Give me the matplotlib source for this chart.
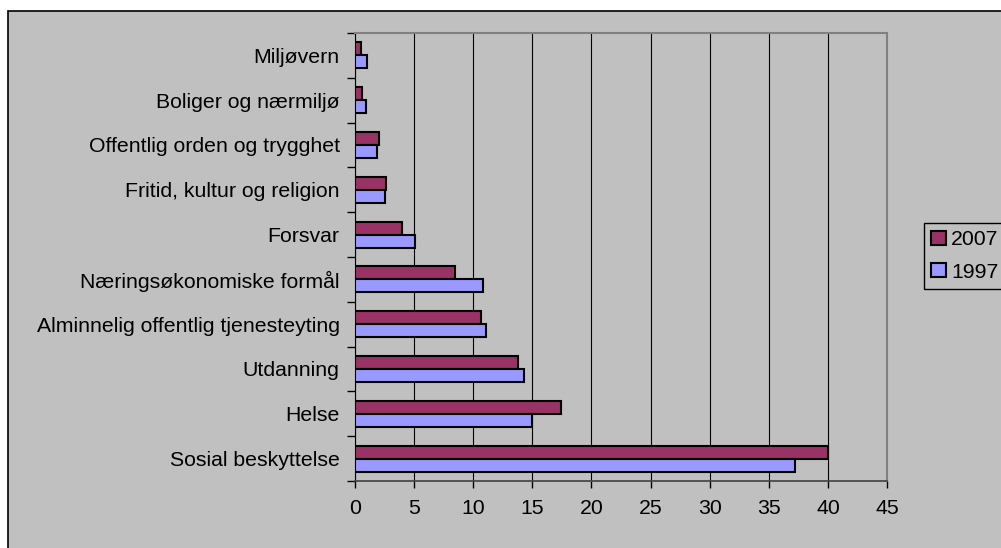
import numpy as np
import matplotlib.pyplot as plt
from matplotlib.patches import Rectangle

# categories bottom -> top
categories = ['Sosial beskyttelse', 'Helse', 'Utdanning',
              'Alminnelig offentlig tjenesteyting', 'Næringsøkonomiske formål',
              'Forsvar', 'Fritid, kultur og religion', 'Offentlig orden og trygghet',
              'Boliger og nærmiljø', 'Miljøvern']
v2007 = [40.0, 17.4, 13.8, 10.7, 8.5, 4.0, 2.6, 2.0, 0.55, 0.5]
v1997 = [37.2, 15.0, 14.3, 11.1, 10.8, 5.1, 2.55, 1.9, 0.9, 1.0]
xticks = [0, 5, 10, 15, 20, 25, 30, 35, 40, 45]

plt.rcParams['font.family'] = ['Liberation Sans', 'DejaVu Sans']
fs = 15.3

W, H = 1001, 548
fig = plt.figure(figsize=(W/100, H/100), dpi=100)
fig.patch.set_facecolor('white')
bg = Rectangle((8/W, -0.1), 1.2, 1.1 - 11/H, transform=fig.transFigure,
               facecolor='#C0C0C0', edgecolor='black', lw=1.2, zorder=-10)
fig.add_artist(bg)

ax = fig.add_axes([355/W, 1 - 481/H, (887-355)/W, (481-33)/H])
ax.set_facecolor('#C0C0C0')

y = np.arange(len(categories))
bh = 0.29
ax.barh(y + bh/2, v2007, height=bh, color='#993366', edgecolor='black', lw=1.5, label='2007', zorder=3)
ax.barh(y - bh/2, v1997, height=bh, color='#9999FF', edgecolor='black', lw=1.5, label='1997', zorder=3)

ax.set_xlim(0, 45)
ax.set_ylim(-0.5, len(categories) - 0.5)
ax.set_xticks(xticks)
ax.tick_params(axis='x', direction='out', length=5, width=1, labelsize=fs, pad=8)
ax.set_yticks(np.arange(len(categories) + 1) - 0.5)
ax.set_yticklabels([])
ax.set_yticks(y, minor=True)
ax.set_yticklabels(categories, minor=True, fontsize=fs)
ax.tick_params(axis='y', which='major', direction='out', length=6, width=1)
ax.tick_params(axis='y', which='minor', length=0, pad=11)
ax.grid(axis='x', color='black', lw=0.8, zorder=1)
ax.set_axisbelow(True)

for s in ['top', 'right']:
    ax.spines[s].set_color('#808080')
    ax.spines[s].set_linewidth(1.5)
ax.spines['left'].set_color('black')
ax.spines['bottom'].set_color('#404040')
ax.spines['bottom'].set_linewidth(1.2)

leg = ax.legend(loc='upper left', bbox_to_anchor=(924/W, 1 - 223/H), bbox_transform=fig.transFigure,
                fancybox=False, framealpha=1, facecolor='#C0C0C0', edgecolor='black',
                prop={'size': fs}, handlelength=0.68, handleheight=0.68,
                handletextpad=0.25, borderpad=0.35, labelspacing=0.62, borderaxespad=0)
leg.get_frame().set_linewidth(1)

fig.savefig('out.png', dpi=100)
